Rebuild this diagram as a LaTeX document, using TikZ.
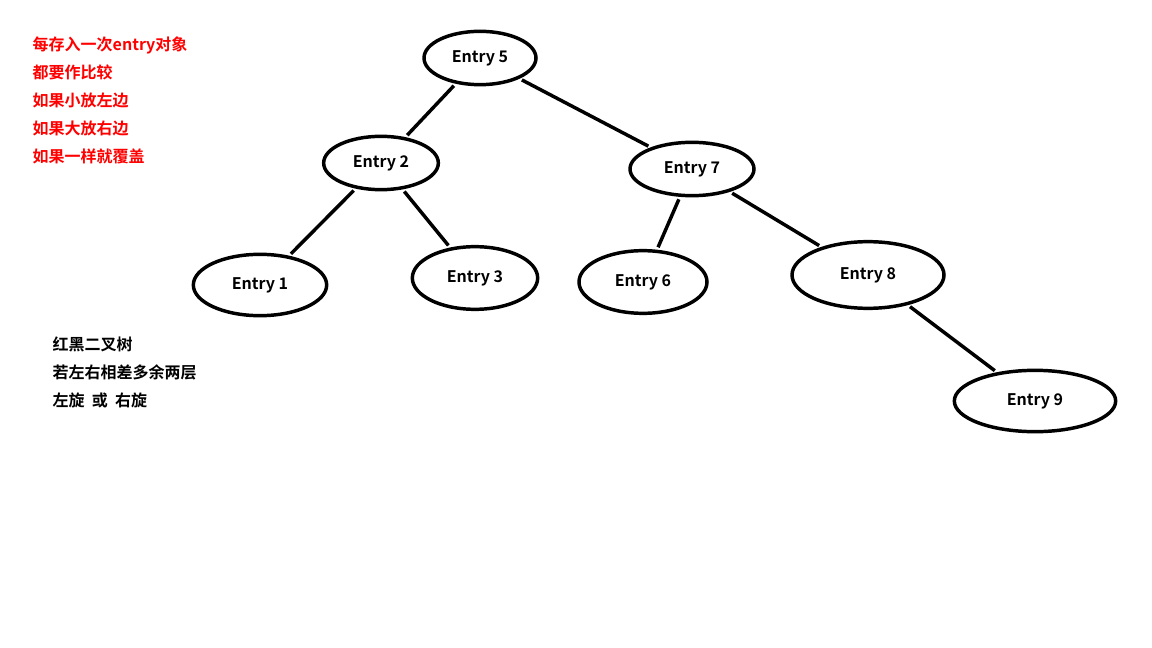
\documentclass[tikz,border=0pt]{standalone}
\usepackage{fontspec}
\setmainfont{Noto Sans CJK SC}[BoldFont={* Bold}]
\usetikzlibrary{shapes.geometric}
\begin{document}
\begin{tikzpicture}[x=0.75pt,y=-0.75pt,
  en/.style={draw,ellipse,line width=2.6pt,inner sep=0pt,font=\bfseries\fontsize{12}{14}\selectfont},
  edge/.style={line width=2.6pt,shorten <=2pt,shorten >=2pt},
  red/.style={text=red,anchor=west,font=\bfseries\fontsize{12}{14}\selectfont},
  blk/.style={text=black,anchor=west,font=\bfseries\fontsize{12}{14}\selectfont}]
\useasboundingbox (0,0) rectangle (1152,648);
\fill[white] (0,0) rectangle (1152,648);
\node[en,minimum width=84pt,minimum height=40pt] (e5) at (480,58) {Entry 5};
\node[en,minimum width=86pt,minimum height=40pt] (e2) at (381,163) {Entry 2};
\node[en,minimum width=93pt,minimum height=40pt] (e7) at (692,169) {Entry 7};
\node[en,minimum width=100pt,minimum height=46pt] (e1) at (260,285) {Entry 1};
\node[en,minimum width=94pt,minimum height=47pt] (e3) at (475,278) {Entry 3};
\node[en,minimum width=96pt,minimum height=47pt] (e6) at (643,282) {Entry 6};
\node[en,minimum width=114pt,minimum height=50pt] (e8) at (868,275) {Entry 8};
\node[en,minimum width=121pt,minimum height=46pt] (e9) at (1035,401) {Entry 9};
\draw[edge] (e5) -- (e2);
\draw[edge] (e5) -- (e7);
\draw[edge] (e2) -- (e1);
\draw[edge] (e2) -- (e3);
\draw[edge] (e7) -- (e6);
\draw[edge] (e7) -- (e8);
\draw[edge] (e8) -- (e9);
\node[red] (r1) at (28,45) {每存入一次entry对象};
\node[red] (r2) at (28,72) {都要作比较};
\node[red] (r3) at (28,100) {如果小放左边};
\node[red] (r4) at (28,128) {如果大放右边};
\node[red] (r5) at (28,156) {如果一样就覆盖};
\node[blk] (b1) at (48,344) {红黑二叉树};
\node[blk] (b2) at (48,372) {若左右相差多余两层};
\node[blk] (b3) at (48,400) {左旋\ \ 或\ \ 右旋};
\end{tikzpicture}
\end{document}
